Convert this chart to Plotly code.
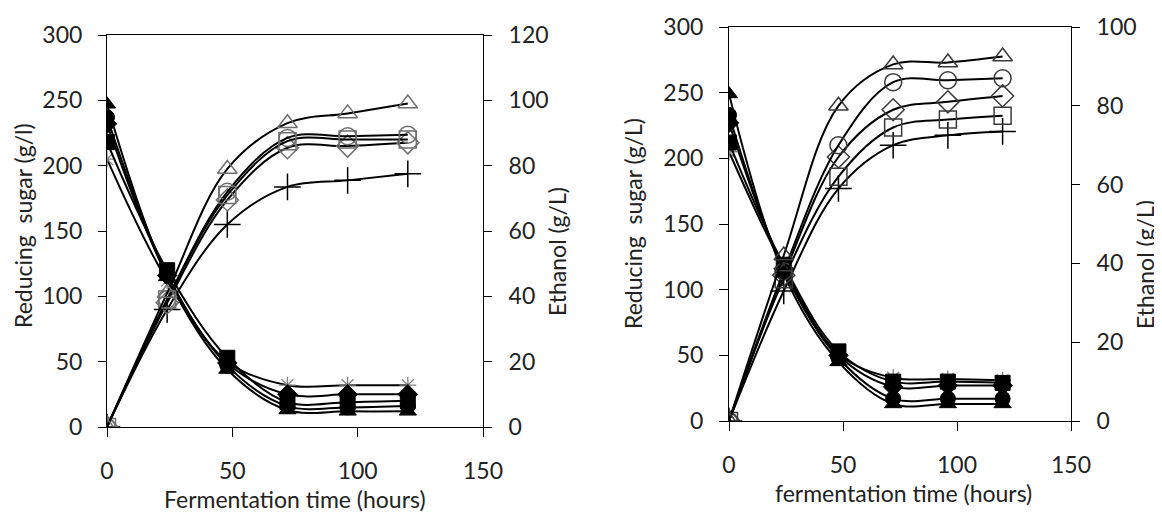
import plotly.graph_objects as go

# ---------------- data ----------------
time_h = [0, 24, 48, 72, 96, 120]

# Left panel: reducing sugar (g/l) - filled markers
sugarA_triangle = [247, 115, 44, 13, 12, 12]
sugarA_circle = [237, 117, 47, 16, 15, 16]
sugarA_diamond = [232, 116, 49, 25, 25, 25]
sugarA_square = [218, 120, 53, 19, 19, 20]
sugarA_star = [205, 112, 50, 32, 32, 32]

# Left panel: ethanol (g/L) - open markers
ethA_triangle = [0, 41, 79, 93, 96, 99]
ethA_circle = [0, 39, 72, 88.5, 89, 89.5]
ethA_diamond = [0, 38, 69.5, 85.5, 86, 87]
ethA_square = [0, 39, 71, 87.5, 88, 88]
ethA_plus = [0, 36, 62, 73.5, 75.5, 77.5]

# Right panel: reducing sugar (g/L)
sugarB_triangle = [249, 112, 45, 13, 13, 13]
sugarB_circle = [233, 115, 48, 17, 17, 17]
sugarB_diamond = [227, 116, 50, 26, 27, 27]
sugarB_square = [212, 119, 53, 30, 30, 29]
sugarB_star = [205, 117, 51, 33, 32, 31]

# Right panel: ethanol (g/L)
ethB_triangle = [0, 42, 80, 90.5, 91, 92.5]
ethB_circle = [0, 38, 70, 86, 86.5, 87]
ethB_diamond = [0, 37, 67, 79, 81, 82.5]
ethB_square = [0, 36, 62, 74.5, 76.5, 77.5]
ethB_plus = [0, 33, 59, 70, 72.5, 73.5]

x_ticks = [0, 50, 100, 150]
sugar_ticks = [0, 50, 100, 150, 200, 250, 300]
ethA_ticks = [0, 20, 40, 60, 80, 100, 120]
ethB_ticks = [0, 20, 40, 60, 80, 100]

# ---------------- figure ----------------
PAGE_PAD = 8  # default body margin of the html page
W, H = 1162 - PAGE_PAD, 515 - PAGE_PAD
FONT = "Lato"
TXT = "#222222"

fig = go.Figure()


def add(y, xa, ya, symbol, mcolor, mline, size=16, mlw=1.5):
    fig.add_trace(go.Scatter(
        x=time_h, y=y, xaxis=xa, yaxis=ya, mode="lines+markers",
        line=dict(color="black", width=2, shape="spline", smoothing=1),
        marker=dict(symbol=symbol, size=size, color=mcolor,
                    line=dict(color=mline, width=mlw)),
        showlegend=False, hoverinfo="x+y"))


def add_panel(xa, ya_s, ya_e, sugars, eths, open_col):
    for y, s in sugars:
        if s == "asterisk-open":
            add(y, xa, ya_s, s, "#808080", "#808080", size=14, mlw=1.3)
        else:
            add(y, xa, ya_s, s, "black", "black", size=15, mlw=1)
    for y, s in eths:
        if s == "cross-thin-open":
            add(y, xa, ya_e, s, "black", "black", size=19, mlw=1.5)
        else:
            add(y, xa, ya_e, s, open_col, open_col, size=17, mlw=1.5)


add_panel("x", "y", "y2",
          [(sugarA_star, "asterisk-open"), (sugarA_diamond, "diamond"),
           (sugarA_circle, "circle"), (sugarA_square, "square"),
           (sugarA_triangle, "triangle-up")],
          [(ethA_plus, "cross-thin-open"), (ethA_diamond, "diamond-open"),
           (ethA_circle, "circle-open"), (ethA_square, "square-open"),
           (ethA_triangle, "triangle-up-open")],
          "#6e6e6e")

add_panel("x2", "y3", "y4",
          [(sugarB_star, "asterisk-open"), (sugarB_diamond, "diamond"),
           (sugarB_circle, "circle"), (sugarB_square, "square"),
           (sugarB_triangle, "triangle-up")],
          [(ethB_plus, "cross-thin-open"), (ethB_diamond, "diamond-open"),
           (ethB_circle, "circle-open"), (ethB_square, "square-open"),
           (ethB_triangle, "triangle-up-open")],
          "#3a3a3a")


def px_x(p):
    return (p - PAGE_PAD) / W


def px_y(p):
    return 1 - (p - PAGE_PAD) / H


axis_common = dict(showgrid=False, zeroline=False, showline=True,
                   linecolor="black", linewidth=1, ticks="outside",
                   tickcolor="black", tickwidth=1, automargin=False,
                   tickfont=dict(family=FONT, size=23, color=TXT))

LA_x0, LA_x1, LA_y0, LA_y1 = 107, 483, 35, 427
RB_x0, RB_x1, RB_y0, RB_y1 = 729, 1071, 27, 421

fig.update_layout(
    width=W, height=H, margin=dict(l=0, r=0, t=0, b=0),
    paper_bgcolor="white", plot_bgcolor="white",
    font=dict(family=FONT, size=23, color=TXT),
    xaxis=dict(domain=[px_x(LA_x0), px_x(LA_x1)], range=[0, 150],
               tickvals=x_ticks, ticklen=9, mirror=True, anchor="y",
               ticklabelstandoff=14, **axis_common),
    yaxis=dict(domain=[px_y(LA_y1), px_y(LA_y0)], range=[0, 300],
               tickvals=sugar_ticks, ticklen=8, anchor="x",
               ticklabelstandoff=11, **axis_common),
    yaxis2=dict(range=[0, 120], tickvals=ethA_ticks, ticklen=8,
                overlaying="y", side="right", anchor="x",
                ticklabelstandoff=12, **axis_common),
    xaxis2=dict(domain=[px_x(RB_x0), px_x(RB_x1)], range=[0, 150],
                tickvals=x_ticks, ticklen=9, mirror=True, anchor="y3",
                ticklabelstandoff=14, **axis_common),
    yaxis3=dict(domain=[px_y(RB_y1), px_y(RB_y0)], range=[0, 300],
                tickvals=sugar_ticks, ticklen=9, anchor="x2",
                ticklabelstandoff=11, **axis_common),
    yaxis4=dict(range=[0, 100], tickvals=ethB_ticks, ticklen=8,
                overlaying="y3", side="right", anchor="x2",
                ticklabelstandoff=12, **axis_common),
)

title_font = dict(family=FONT, size=23, color=TXT)
titles = [
    ("Fermentation time (hours)", 295, 499, 0),
    ("fermentation time (hours)", 903, 493, 0),
    ("Reducing\u00a0 sugar (g/l)", 23, 226, -90),
    ("Ethanol (g/L)", 557, 252, -90),
    ("Reducing\u00a0 sugar (g/L)", 633, 224, -90),
    ("Ethanol (g/L)", 1145, 265, -90),
]
for text, cx, cy, ang in titles:
    fig.add_annotation(text=text, x=px_x(cx), y=px_y(cy), xref="paper",
                       yref="paper", xanchor="center", yanchor="middle",
                       textangle=ang, showarrow=False, font=title_font,
                       borderpad=0)

fig.write_html("out.html")
